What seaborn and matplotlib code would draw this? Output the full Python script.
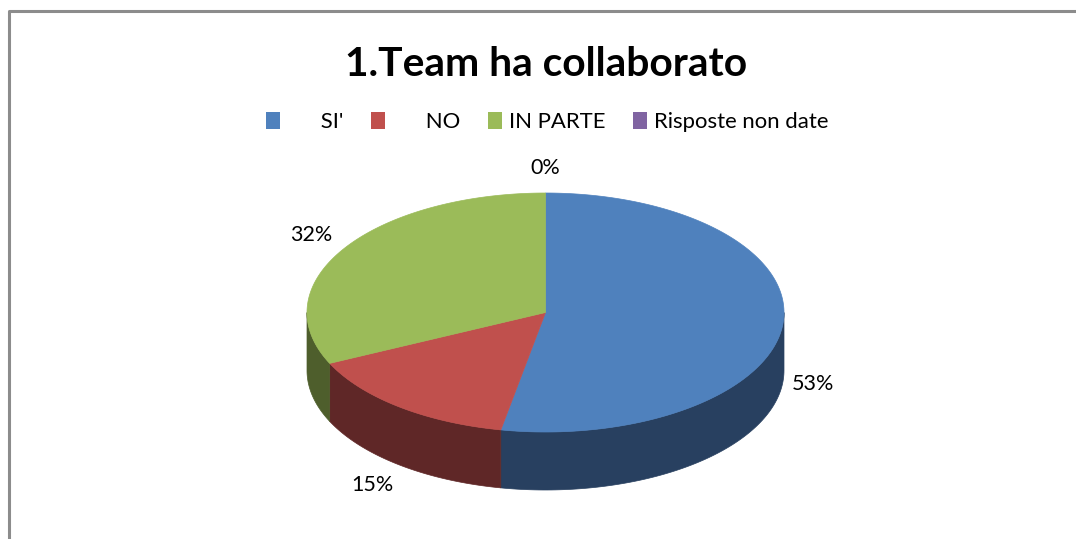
import numpy as np
import matplotlib.pyplot as plt
from matplotlib.patches import Polygon, Patch
import seaborn as sns

# data
categorie = ["SI'", "NO", "IN PARTE", "Risposte non date"]
valori = [53, 15, 32, 0]
etichette = ["53%", "15%", "32%", "0%"]
titolo = "1.Team ha collaborato"

sns.set_theme(style="white")
plt.rcParams["font.family"] = ["Lato", "DejaVu Sans"]
plt.rcParams["text.color"] = "black"

top_cols = sns.color_palette(["#4F81BD", "#C0504D", "#9BBB59", "#8064A2"])
side_cols = sns.color_palette(["#284060", "#5F2727", "#4E5E2C", "#3F3151"])

fig = plt.figure(figsize=(10.76, 5.39), dpi=100)
ax = fig.add_axes([0, 0, 1, 1])
ax.set_xlim(0, 1076)
ax.set_ylim(539, 0)
ax.axis("off")

# frame of the chart area
ax.plot([8.5, 8.5, 1076], [539, 10.5, 10.5], color="#8c8c8c", lw=2.2, solid_capstyle="butt")

# ellipse geometry (pixels)
cx, cy, rx, ry, depth = 545.5, 312.5, 238.5, 119.5, 58


def pt(theta, dz=0.0):
    return cx + rx * np.sin(theta), cy - ry * np.cos(theta) + dz


tot = sum(valori)
bounds = np.concatenate([[0], np.cumsum(valori)]) / tot * 2 * np.pi

# side walls (only front half, theta in [pi/2, 3pi/2])
for i in range(len(valori)):
    a, b = max(bounds[i], np.pi / 2), min(bounds[i + 1], 3 * np.pi / 2)
    if b <= a:
        continue
    t = np.linspace(a, b, 100)
    xs, ys = pt(t)
    xb, yb = pt(t[::-1], depth)
    poly = np.column_stack([np.concatenate([xs, xb]), np.concatenate([ys, yb])])
    ax.add_patch(Polygon(poly, closed=True, fc=side_cols[i], ec=side_cols[i], lw=0.5))

# top faces
for i in range(len(valori)):
    a, b = bounds[i], bounds[i + 1]
    if b <= a:
        continue
    t = np.linspace(a, b, 200)
    xs, ys = pt(t)
    poly = np.column_stack([np.concatenate([[cx], xs]), np.concatenate([[cy], ys])])
    ax.add_patch(Polygon(poly, closed=True, fc=top_cols[i], ec=top_cols[i], lw=0.5))

# percentage labels
for i in range(len(valori)):
    m = (bounds[i] + bounds[i + 1]) / 2
    k = 1.12 + 0.08 * abs(np.cos(m))
    lx = cx + rx * k * np.sin(m)
    ly = cy - ry * 1.21 * np.cos(m) + (depth if np.cos(m) < 0 else 0)
    ax.text(lx, ly, etichette[i], ha="center", va="center", fontsize=15.5, color="black")

ax.text(546, 65, titolo, ha="center", va="center", fontsize=29.3, fontweight="bold", color="black")

handles = [Patch(fc=top_cols[i], ec="none") for i in range(len(categorie))]
labels = ["      " + categorie[0], "      " + categorie[1], categorie[2], categorie[3]]
leg = ax.legend(handles, labels, loc="center", bbox_to_anchor=(547 / 1076, 1 - 122 / 539),
                ncol=4, frameon=False, fontsize=15.9, handlelength=0.65, handleheight=0.8,
                handletextpad=0.3, columnspacing=1.25)
for t in leg.get_texts():
    t.set_color("black")

fig.savefig("out.png", dpi=100)
